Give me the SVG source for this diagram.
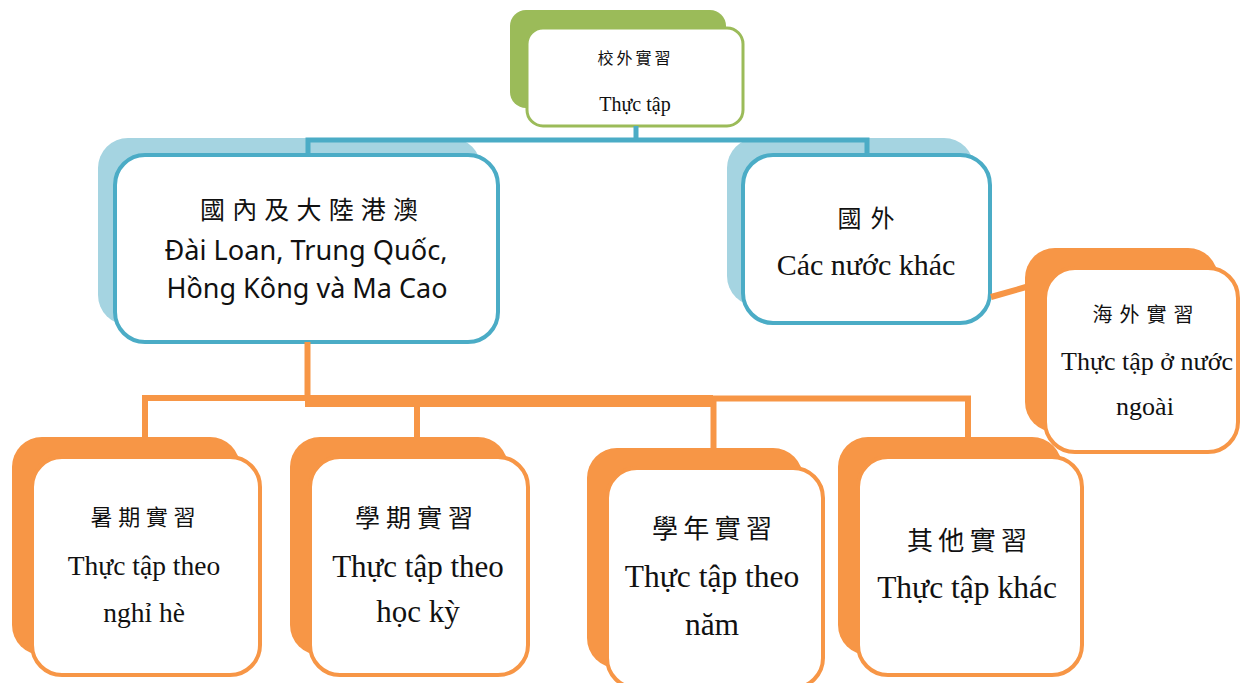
<svg xmlns="http://www.w3.org/2000/svg" width="1240" height="683" viewBox="0 0 1240 683">
<style>
.bg{fill:#ffffff}
.front{fill:#ffffff}
.fo{stroke:#F79646;stroke-width:4}
.fb{stroke:#4BACC6;stroke-width:4}
.fg{stroke:#9BBB59;stroke-width:3}
.so{fill:#F79646}
.sb{fill:#A5D4E1}
.sg{fill:#9BBB59}
.cb{fill:none;stroke:#4BACC6;stroke-width:5}
.co{fill:none;stroke:#F79646;stroke-width:6}
.cjk{font-family:"Noto Sans CJK TC","Noto Sans CJK SC",sans-serif;fill:#111;text-anchor:middle}
.ser{font-family:"Liberation Serif","Times New Roman",serif;fill:#111;text-anchor:middle}
.san{font-family:"Noto Sans","Liberation Sans",sans-serif;fill:#111;text-anchor:middle}
</style>
<rect class="bg" x="0" y="0" width="1240" height="683"/>

<g id="node-top">
<rect class="sg" x="510" y="10" width="216" height="98" rx="16"/>
<rect class="front fg" x="527" y="28" width="216" height="98" rx="16"/>
<text class="cjk" x="634" y="64" font-size="16" textLength="73" lengthAdjust="spacing">校外實習</text>
<text class="ser" x="635" y="111" font-size="20">Thực tập</text>
</g>

<g id="node-domestic">
<rect class="sb" x="98" y="138" width="383" height="187" rx="30"/>
<rect class="front fb" x="115" y="155" width="383" height="187" rx="30"/>
<text class="cjk" x="309" y="219" font-size="25" textLength="218" lengthAdjust="spacing">國內及大陸港澳</text>
<text class="san" x="306" y="260" font-size="28" textLength="283" lengthAdjust="spacingAndGlyphs">Đài Loan, Trung Quốc,</text>
<text class="san" x="307" y="298" font-size="28" textLength="281" lengthAdjust="spacingAndGlyphs">Hồng Kông và Ma Cao</text>
</g>

<g id="node-foreign">
<rect class="sb" x="727" y="138" width="247" height="168" rx="30"/>
<rect class="front fb" x="743" y="155" width="247" height="168" rx="30"/>
<text class="cjk" x="866" y="227" font-size="24" textLength="57" lengthAdjust="spacing">國外</text>
<text class="ser" x="866" y="275" font-size="30">Các nước khác</text>
</g>

<g id="node-overseas">
<rect class="so" x="1025" y="248" width="193" height="184" rx="30"/>
<rect class="front fo" x="1045" y="268" width="193" height="184" rx="30"/>
<text class="cjk" x="1143" y="322" font-size="20" textLength="101" lengthAdjust="spacing">海外實習</text>
<text class="ser" x="1147" y="370" font-size="26">Thực tập ở nước</text>
<text class="ser" x="1145" y="415" font-size="26">ngoài</text>
</g>

<g id="node-summer">
<rect class="so" x="12" y="437" width="228" height="218" rx="30"/>
<rect class="front fo" x="32" y="457" width="228" height="218" rx="30"/>
<text class="cjk" x="143" y="525" font-size="22" textLength="105" lengthAdjust="spacing">暑期實習</text>
<text class="ser" x="144" y="575" font-size="27.5">Thực tập theo</text>
<text class="ser" x="144" y="622" font-size="27.5">nghỉ hè</text>
</g>

<g id="node-semester">
<rect class="so" x="290" y="437" width="218" height="218" rx="30"/>
<rect class="front fo" x="310" y="457" width="218" height="218" rx="30"/>
<text class="cjk" x="414" y="527" font-size="25" textLength="118" lengthAdjust="spacing">學期實習</text>
<text class="ser" x="418" y="577" font-size="31">Thực tập theo</text>
<text class="ser" x="418" y="622" font-size="31">học kỳ</text>
</g>

<g id="node-year">
<rect class="so" x="587" y="448" width="216" height="220" rx="30"/>
<rect class="front fo" x="607" y="468" width="216" height="220" rx="30"/>
<text class="cjk" x="712" y="538" font-size="26" textLength="120" lengthAdjust="spacing">學年實習</text>
<text class="ser" x="712" y="587" font-size="31.5">Thực tập theo</text>
<text class="ser" x="712" y="635" font-size="31.5">năm</text>
</g>

<g id="node-other">
<rect class="so" x="838" y="437" width="224" height="218" rx="30"/>
<rect class="front fo" x="858" y="457" width="224" height="218" rx="30"/>
<text class="cjk" x="967" y="550" font-size="26" textLength="120" lengthAdjust="spacing">其他實習</text>
<text class="ser" x="967" y="598" font-size="31.5">Thực tập khác</text>
</g>

<g id="connectors">
<path class="cb" d="M636 126 V140"/>
<path class="cb" d="M308 155 V140 H867 V155"/>
<path class="co" d="M307.5 342 V401"/>
<path class="co" d="M145 437 V398 H307"/>
<path d="M305 395 H713 V407 H305 Z" fill="#F79646"/>
<path class="co" d="M417 401 V437"/>
<path class="co" d="M713.5 401 V448"/>
<path class="co" d="M710 398.5 H968 V437"/>
<path class="co" stroke-width="5" d="M991 297 L1026 287"/>
</g>
</svg>
